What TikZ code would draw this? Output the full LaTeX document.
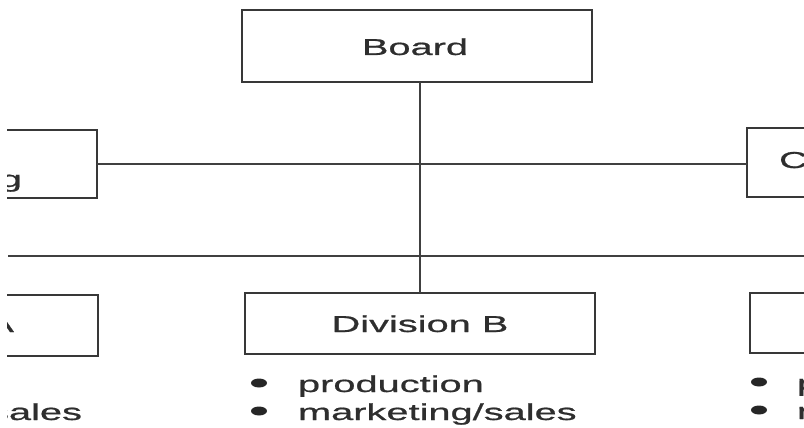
\documentclass[tikz,border=0pt]{standalone}
\usepackage{fontspec}
\usetikzlibrary{shapes.geometric}
\newfontfamily\lab[FakeStretch=1.73,FakeBold=0.8]{Liberation Sans}
\begin{document}
\begin{tikzpicture}[x=1pt,y=-1pt,
  every node/.style={inner sep=0pt,outer sep=0pt},
  orgbox/.style={draw=black!78,line width=2.8pt,rectangle,minimum width=350pt},
  txt/.style={text=black!82,font=\lab\fontsize{23}{28}\selectfont},
  conn/.style={draw=black!75,line width=2.8pt},
  bul/.style={fill=black!85,ellipse,minimum width=16pt,minimum height=9pt}]
\useasboundingbox (0,0) rectangle (804,428);
\clip (7,0) rectangle (804,428);
% boxes
\node[orgbox,minimum height=72pt] (board) at (417,46) {};
\node[txt,anchor=base] (boardt) at (415,55) {Board};
\node[orgbox,minimum height=68pt] (lefttop) at (-78,164) {};
\node[txt,anchor=base east] (lefttopt) at (22,187) {Marketing};
\node[orgbox,minimum height=69pt] (righttop) at (922,162.5) {};
\node[txt,anchor=base west] (righttopt) at (779,168) {Corporate};
\node[orgbox,minimum height=61pt] (divB) at (420,323.5) {};
\node[txt,anchor=base] (divBt) at (420,332) {Division B};
\node[orgbox,minimum height=61pt] (divA) at (-77,325.5) {};
\node[txt,anchor=base east] (divAt) at (14,332) {Division A};
\node[orgbox,minimum height=60pt] (divC) at (925,323) {};
\node[txt,anchor=base] (divCt) at (925,332) {Division C};
% connectors
\draw[conn] (divB.north |- board.south) -- (divB.north);
\draw[conn] (lefttop.east) -- (lefttop.east -| righttop.west);
\coordinate (hl) at (8,256);
\coordinate (hr) at (810,256);
\draw[conn] (hl) -- (hr);
% lists
\node[bul] (bB1) at (259,383) {};
\node[bul] (bB2) at (259,411) {};
\node[txt,anchor=base west] (lB1) at (298,392) {production};
\node[txt,anchor=base west] (lB2) at (298,420) {marketing/sales};
\node[bul] (bA1) at (-234,383) {};
\node[bul] (bA2) at (-234,411) {};
\node[txt,anchor=base east] (lA1) at (-6,392) {production};
\node[txt,anchor=base east] (lA2) at (82,420) {marketing/sales};
\node[bul] (bC1) at (759,382) {};
\node[bul] (bC2) at (759,410) {};
\node[txt,anchor=base west] (lC1) at (797,391) {production};
\node[txt,anchor=base west] (lC2) at (797,419) {marketing/sales};
\end{tikzpicture}
\end{document}
